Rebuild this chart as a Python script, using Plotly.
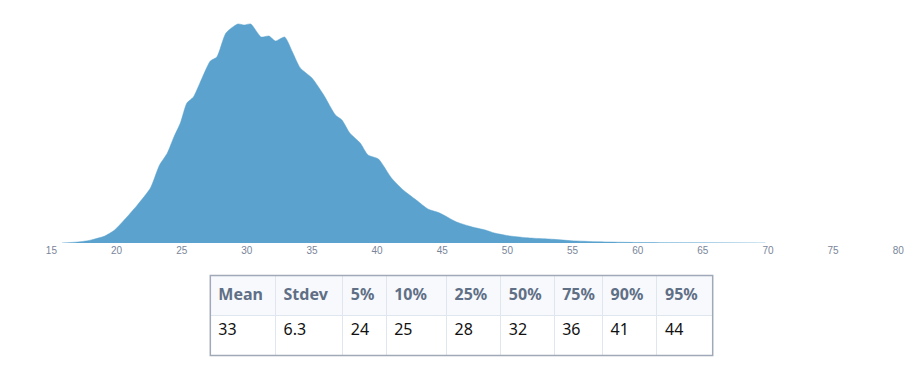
import plotly.graph_objects as go

# Density curve (relative heights)
x_vals = [15.8, 17.0, 17.8, 19.1, 19.85, 20.8, 21.6, 22.6, 23.3, 23.9, 24.4, 24.9, 25.4, 25.9,
          26.4, 27.2, 27.7, 28.4, 29.3, 29.8, 30.3, 31.1, 31.7, 32.2, 32.9, 33.5, 34.1, 35.0,
          35.9, 36.8, 37.3, 37.9, 38.7, 39.3, 40.1, 41.1, 42.0, 43.0, 43.9, 44.8, 46.1, 47.3,
          48.3, 49.0, 50.2, 51.7, 53.2, 54.9, 57.0, 60.0, 65.0, 69.8]
density = [0, 1.0, 2.3, 7, 13, 26, 38, 55, 78, 90, 106, 120, 140, 146,
           160, 182, 186, 210, 219, 218, 219, 206, 207, 202, 206, 191, 175, 165,
           148, 128, 123, 110, 100, 88, 84, 65, 53, 43, 34, 30, 21, 16,
           13, 10, 7, 5, 4, 2.3, 1.2, 0.5, 0.2, 0.05]

tick_vals = [15, 20, 25, 30, 35, 40, 45, 50, 55, 60, 65, 70, 75, 80]

stat_names = ["Mean", "Stdev", "5%", "10%", "25%", "50%", "75%", "90%", "95%"]
stat_values = ["33", "6.3", "24", "25", "28", "32", "36", "41", "44"]
col_widths = [66, 68, 44, 61, 55, 54, 49, 55, 56]

W, H = 924, 365

fig = go.Figure()
fig.add_trace(go.Scatter(
    x=x_vals, y=density, mode="lines", fill="tozeroy",
    line=dict(color="#5ba3ce", width=0.5, shape="spline", smoothing=0.6),
    fillcolor="#5ba3ce", hoverinfo="skip", showlegend=False))

fig.add_trace(go.Table(
    domain=dict(x=[207 / W, 716 / W], y=[0, (H - 275) / H]),
    columnwidth=col_widths,
    header=dict(values=["<b>%s</b>" % s for s in stat_names],
                fill_color="#f7f9fc", line_color="#dfe6ee", align="left",
                height=40, font=dict(family="Noto Sans", size=16, color="#5f6f86")),
    cells=dict(values=[[v] for v in stat_values],
               fill_color="white", line_color="#dfe6ee", align="left",
               height=40, font=dict(family="Noto Sans", size=16, color="#111111"))))

fig.add_shape(type="rect", xref="paper", yref="paper",
              x0=207 / W, x1=716 / W, y0=(H - 355.5) / H, y1=(H - 275.5) / H,
              line=dict(color="#a0a9b8", width=1.5))

fig.update_layout(
    width=W, height=H, margin=dict(l=0, r=0, t=0, b=0),
    paper_bgcolor="white", plot_bgcolor="white",
    xaxis=dict(domain=[46 / W, 904 / W], range=[15, 80], tickvals=tick_vals,
               showgrid=False, zeroline=False, showline=False, ticks="",
               tickfont=dict(family="Liberation Sans", size=10, color="#7a8599")),
    yaxis=dict(domain=[(H - 243) / H, (H - 22) / H], range=[0, 221],
               visible=False, showgrid=False, zeroline=False),
)

fig.write_html("out.html", config={"displayModeBar": False},
               post_script="document.body.style.margin='0';document.body.style.overflow='hidden';")
